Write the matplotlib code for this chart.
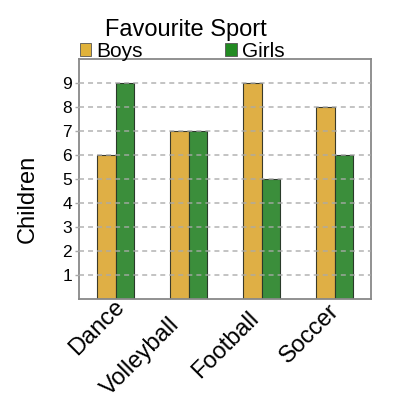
import matplotlib
matplotlib.use("Agg")
import matplotlib.pyplot as plt
import matplotlib.transforms as mtransforms
import numpy as np
from matplotlib.patches import Patch

categories = ["Dance", "Volleyball", "Football", "Soccer"]
boys = [6, 7, 9, 8]
girls = [9, 7, 5, 6]
yticks = [1, 2, 3, 4, 5, 6, 7, 8, 9]

plt.rcParams['font.family'] = ['Liberation Sans', 'DejaVu Sans']
plt.rcParams['lines.scale_dashes'] = False

fig = plt.figure(figsize=(4, 4), dpi=100)
ax = fig.add_axes([0.1975, 0.2525, 0.73, 0.6])

x = np.arange(len(categories))
w = 0.25
ax.bar(x - w/2, boys, w, color="#DFAF45", edgecolor="#3a3a2a", linewidth=0.8, label="Boys", zorder=2)
ax.bar(x + w/2, girls, w, color="#3B8E3B", edgecolor="#2a3a2a", linewidth=0.8, label="Girls", zorder=2)

ax.set_xlim(-0.5, len(categories) - 0.5)
ax.set_ylim(0, 10)
ax.set_yticks(yticks)
ax.set_xticks(x)
ax.set_xticklabels(categories, rotation=45, ha="center", va="center", rotation_mode="anchor", fontsize=17)
ax.tick_params(axis="y", labelsize=12.5, length=3, width=1, color="#aaaaaa", pad=2)
ax.tick_params(axis="x", length=0, pad=0)
# label centre offset (pixels) grows with label length, as in the reference
for lab, name in zip(ax.get_xticklabels(), categories):
    half = len(name) * 5.9
    dx = (11 - half) / fig.dpi
    dy = -(-1 + half) / fig.dpi
    lab.set_transform(lab.get_transform() + mtransforms.ScaledTranslation(dx, dy, fig.dpi_scale_trans))

ax.yaxis.grid(True, linestyle=(0, (3.6, 2.9)), color="#aaaaaa", alpha=0.7, linewidth=1.4, zorder=3)
ax.set_axisbelow(False)
for s in ax.spines.values():
    s.set_color("#888888")
    s.set_linewidth(1.3)

ax.set_ylabel("Children", fontsize=17)
ax.yaxis.set_label_coords(-0.137, 0.419)

fig.text(0.465, 0.897, "Favourite Sport", ha="center", va="bottom", fontsize=17)
handles = [Patch(facecolor="#E0B23A", edgecolor="#555555", linewidth=0.6),
           Patch(facecolor="#228B22", edgecolor="#555555", linewidth=0.6)]
fig.legend(handles, ["Boys", "Girls"], loc="upper left", bbox_to_anchor=(0.199, 0.895),
           ncol=2, frameon=False, fontsize=15, handlelength=0.55, handleheight=0.55,
           handletextpad=0.25, columnspacing=3.95, borderaxespad=0, borderpad=0)

fig.savefig("out.png", dpi=100)
